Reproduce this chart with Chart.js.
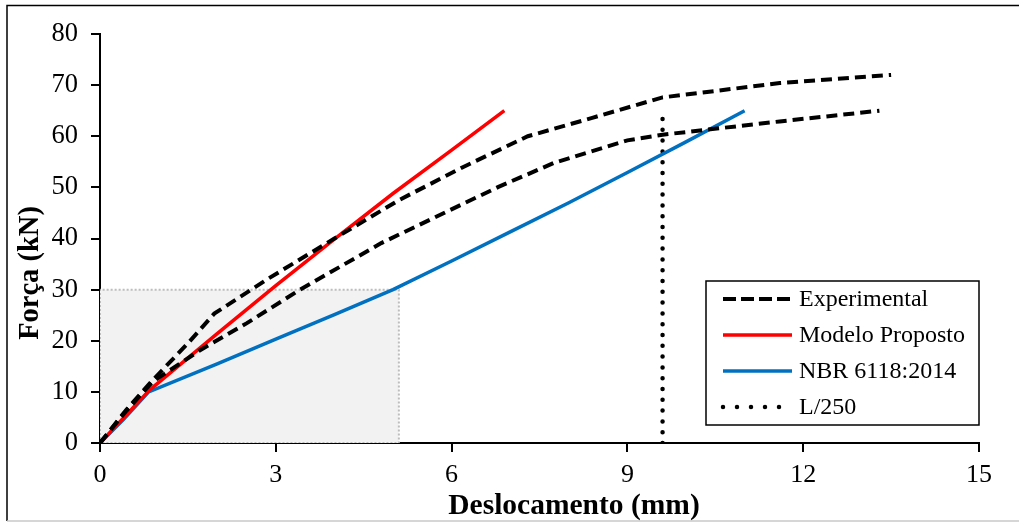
<!DOCTYPE html>
<html>
<head>
<meta charset="utf-8">
<script src="https://cdn.jsdelivr.net/npm/chart.js@4.4.0/dist/chart.umd.min.js"></script>
<style>
  html, body { margin: 0; padding: 0; background: #fff; }
</style>
</head>
<body>
<canvas id="grafico" width="1019" height="525"></canvas>
<script>
// curvas força x deslocamento (mm, kN)
const deslocExp1 = [0, 0.45, 0.9, 1.5, 1.95, 2.85, 4.0, 5.1, 6.2, 7.3, 8.4, 9.6, 11.6, 13.5];
const forcaExp1  = [0, 6.5, 12.3, 19.5, 25.3, 32, 40, 47.5, 54, 60, 63.6, 67.6, 70.4, 72];

const deslocExp2 = [0, 0.45, 0.9, 1.7, 2.5, 3.4, 4.8, 6.8, 7.75, 9.0, 9.6, 11.6, 13.3];
const forcaExp2  = [0, 6.3, 12, 18.1, 23.4, 29.9, 39.1, 50.1, 54.8, 59.2, 60.3, 62.9, 65];

const deslocModelo = [0, 0.85, 2, 3, 4, 5, 6, 6.9];
const forcaModelo  = [0, 10.4, 21.4, 30.8, 39.9, 48.8, 57.3, 65];

const deslocNBR = [0, 0.4, 0.83, 2, 3, 4, 5, 6, 7, 8, 9, 10, 11];
const forcaNBR  = [0, 4.6, 10, 15.5, 20.3, 25.1, 30, 35.6, 41.3, 47, 52.9, 58.9, 65];

// limite L/250
const deslocL250 = [9.6, 9.6];
const forcaL250  = [0, 64];

// região de serviço destacada (contorno e topo)
const deslocArea = [0, 0, 5.1, 5.1, 0];
const forcaArea  = [0, 30, 30, 0, 0];
const deslocTopo = [0, 5.1];
const forcaTopo  = [30, 30];

const ticksX = [0, 3, 6, 9, 12, 15];
const ticksY = [0, 10, 20, 30, 40, 50, 60, 70, 80];

function pontos(xs, ys) {
  return xs.map(function (x, i) { return { x: x, y: ys[i] }; });
}

const fonte = '"Liberation Serif", "Times New Roman", serif';

// legenda, títulos dos eixos e moldura
const extras = {
  id: 'extras',
  afterDraw(chart) {
    const ctx = chart.ctx;
    const area = chart.chartArea;
    ctx.save();

    // moldura externa
    ctx.strokeStyle = '#000';
    ctx.lineWidth = 1.5;
    ctx.beginPath();
    ctx.moveTo(7, 521);
    ctx.lineTo(7, 5.5);
    ctx.lineTo(1019, 5.5);
    ctx.stroke();
    ctx.strokeStyle = '#c8c8c8';
    ctx.beginPath();
    ctx.moveTo(7, 521);
    ctx.lineTo(1019, 521);
    ctx.stroke();

    // títulos
    ctx.fillStyle = '#000';
    ctx.textAlign = 'center';
    ctx.textBaseline = 'middle';
    ctx.font = 'bold 29.5px ' + fonte;
    ctx.fillText('Deslocamento (mm)', 574, 506);
    ctx.font = 'bold 28.5px ' + fonte;
    ctx.translate(31, 273);
    ctx.rotate(-Math.PI / 2);
    ctx.fillText('Força (kN)', 0, 0);
    ctx.setTransform(1, 0, 0, 1, 0, 0);

    // legenda
    const itens = chart.data.datasets.filter(function (d) { return d.naLegenda; });
    const x0 = 706, y0 = 281, w = area.right - x0, h = 144;
    ctx.fillStyle = '#fff';
    ctx.fillRect(x0, y0, w, h);
    ctx.strokeStyle = '#000';
    ctx.lineWidth = 1.5;
    ctx.setLineDash([]);
    ctx.strokeRect(x0, y0, w, h);
    ctx.font = '24px ' + fonte;
    ctx.textAlign = 'left';
    itens.forEach(function (d, i) {
      const y = y0 + 18 + i * 36;
      ctx.strokeStyle = d.borderColor;
      ctx.lineWidth = d.borderWidth;
      ctx.lineCap = d.borderCapStyle || 'butt';
      ctx.setLineDash(d.dashLegenda || []);
      ctx.beginPath();
      ctx.moveTo(723, y);
      ctx.lineTo(792, y);
      ctx.stroke();
      ctx.setLineDash([]);
      ctx.fillStyle = '#000';
      ctx.fillText(d.label, 799, y + 1);
    });
    ctx.restore();
  }
};

const ctx = document.getElementById('grafico');
new Chart(ctx, {
  type: 'scatter',
  data: {
    datasets: [
      {
        label: 'Experimental',
        naLegenda: true,
        data: pontos(deslocExp1, forcaExp1),
        showLine: true,
        borderColor: '#000',
        borderWidth: 4,
        borderDash: [11, 6],
        dashLegenda: [13, 5],
        pointRadius: 0,
        fill: false
      },
      {
        label: 'Experimental 2',
        data: pontos(deslocExp2, forcaExp2),
        showLine: true,
        borderColor: '#000',
        borderWidth: 4,
        borderDash: [11, 6],
        pointRadius: 0,
        fill: false
      },
      {
        label: 'Modelo Proposto',
        naLegenda: true,
        data: pontos(deslocModelo, forcaModelo),
        showLine: true,
        borderColor: '#ff0000',
        borderWidth: 3.5,
        pointRadius: 0,
        fill: false
      },
      {
        label: 'NBR 6118:2014',
        naLegenda: true,
        data: pontos(deslocNBR, forcaNBR),
        showLine: true,
        borderColor: '#0070c0',
        borderWidth: 3.5,
        pointRadius: 0,
        fill: false
      },
      {
        label: 'L/250',
        naLegenda: true,
        data: pontos(deslocL250, forcaL250),
        showLine: true,
        borderColor: '#000',
        borderWidth: 4.5,
        borderCapStyle: 'round',
        borderDash: [0, 10.8],
        dashLegenda: [0, 14],
        pointRadius: 0,
        fill: false
      },
      {
        label: 'contorno',
        data: pontos(deslocArea, forcaArea),
        showLine: true,
        borderColor: '#bdbdbd',
        borderWidth: 2,
        borderDash: [2, 2],
        pointRadius: 0,
        fill: false
      },
      {
        label: 'fundo',
        data: pontos(deslocTopo, forcaTopo),
        showLine: true,
        borderWidth: 0,
        borderColor: 'rgba(0,0,0,0)',
        backgroundColor: '#f2f2f2',
        pointRadius: 0,
        fill: 'origin'
      }
    ]
  },
  options: {
    responsive: false,
    animation: false,
    devicePixelRatio: 1,
    layout: { padding: { left: 0, right: 40, top: 34, bottom: 0 } },
    plugins: {
      legend: { display: false },
      tooltip: { enabled: false },
      filler: { propagate: false }
    },
    scales: {
      x: {
        type: 'linear',
        min: 0,
        max: 15,
        afterBuildTicks: function (s) { s.ticks = ticksX.map(function (v) { return { value: v }; }); },
        afterFit: function (s) { s.height = 82; },
        grid: { drawOnChartArea: false, color: '#000', tickLength: 9, lineWidth: 2 },
        border: { color: '#000', width: 2 },
        ticks: { color: '#000', font: { family: fonte, size: 26 }, padding: 8, maxRotation: 0 }
      },
      y: {
        type: 'linear',
        min: 0,
        max: 80,
        afterBuildTicks: function (s) { s.ticks = ticksY.map(function (v) { return { value: v }; }); },
        afterFit: function (s) { s.width = 100; },
        grid: { drawOnChartArea: false, color: '#000', tickLength: 9, lineWidth: 2 },
        border: { color: '#000', width: 2 },
        ticks: { color: '#000', font: { family: fonte, size: 26.5 }, padding: 13 }
      }
    }
  },
  plugins: [extras]
});
</script>
</body>
</html>
